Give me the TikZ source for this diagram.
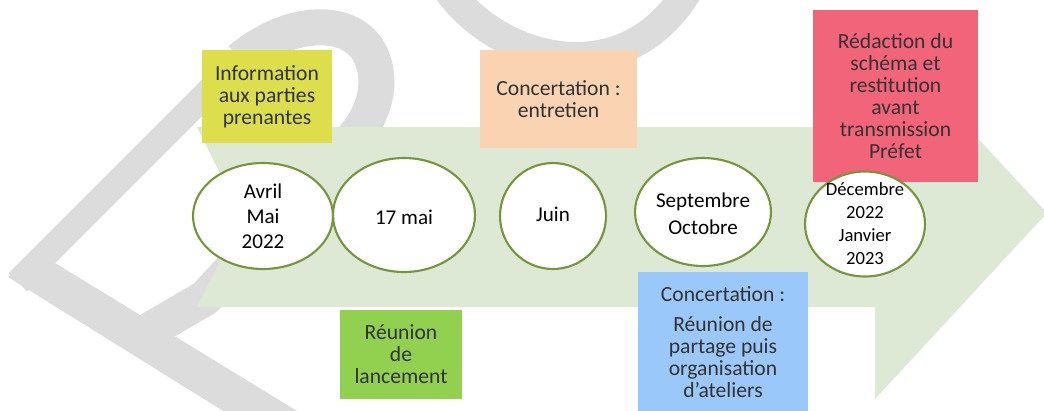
\documentclass[tikz,border=0pt]{standalone}
\usepackage{fontspec}
\setmainfont{Carlito}
\usetikzlibrary{shapes.geometric}
\definecolor{arrowgreen}{RGB}{221,232,213}
\definecolor{wmgrey}{RGB}{220,220,220}
\definecolor{ybox}{RGB}{221,222,76}
\definecolor{pbox}{RGB}{250,211,178}
\definecolor{rbox}{RGB}{242,100,122}
\definecolor{gbox}{RGB}{146,208,80}
\definecolor{bbox}{RGB}{155,200,250}
\definecolor{ringgreen}{RGB}{118,150,62}
\definecolor{boxtext}{RGB}{50,50,50}
\begin{document}
\begin{tikzpicture}[x=0.02cm,y=-0.02cm,
  box/.style={rectangle, inner sep=0pt, align=center, text=boxtext,
    font=\fontsize{12.3}{12.5}\selectfont},
  datering/.style={ellipse, draw=ringgreen, line width=1.2pt, fill=white, inner sep=0pt},
  datetext/.style={inner sep=0pt, align=center, text=black,
    font=\fontsize{12}{14.2}\selectfont}]
\useasboundingbox (0,0) rectangle (1044,410);
\begin{scope}
\clip (0,0) rectangle (1044,410);
% watermark
\fill[wmgrey] (8,277) -- (42,255) -- (302,414) -- (228,414) -- cycle;
\draw[wmgrey, line width=14.8pt] (18,282) -- (246,54);
\draw[wmgrey, line width=20.5pt, line join=round] (240,60) .. controls (285,22) and (345,15) .. (368,50)
  .. controls (385,80) and (375,115) .. (350,142) -- (205,298) -- (150,330);
\draw[wmgrey, line width=17pt] (448,-10) .. controls (500,62) and (625,95) .. (688,-10);
% big arrow
\fill[arrowgreen] (197,127) -- (875,127) -- (875,27) -- (1047,213) -- (875,399)
  -- (875,307) -- (197,307) -- (242,217) -- cycle;
\end{scope}
% boxes
\node[box, fill=ybox, minimum width=2.6cm, minimum height=1.86cm] (info) at (267,96.5)
  {Information\\aux parties\\prenantes};
\node[box, fill=pbox, minimum width=3.14cm, minimum height=1.96cm] (entretien) at (558.5,99)
  {Concertation :\\entretien};
\node[box, fill=rbox, minimum width=3.3cm, minimum height=3.44cm] (redaction) at (895.5,96)
  {Rédaction du\\schéma et\\restitution\\avant\\transmission\\Préfet};
\node[box, fill=gbox, minimum width=2.44cm, minimum height=1.78cm] (lancement) at (401,354.5)
  {Réunion\\de\\lancement};
\node[box, fill=bbox, minimum width=3.4cm, minimum height=2.8cm] (ateliers) at (723,342)
  {Concertation :\\[4.5pt]Réunion de\\partage puis\\organisation\\d’ateliers};
% dates
\node[datering, minimum width=2.8cm, minimum height=2.12cm] (e1) at (263,216) {};
\node[datetext] (t1) at (e1) {Avril\\Mai\\2022};
\node[datering, minimum width=2.84cm, minimum height=2.28cm] (e2) at (404,215) {};
\node[datetext] (t2) at (404,217) {17 mai};
\node[datering, minimum width=2.12cm, minimum height=2.12cm] (e3) at (553,216) {};
\node[datetext] (t3) at (553,214) {Juin};
\node[datering, minimum width=2.72cm, minimum height=2.16cm] (e4) at (703,212) {};
\node[datetext, font=\fontsize{12}{15.2}\selectfont] (t4) at (703,214) {Septembre\\Octobre};
\node[datering, minimum width=2.4cm, minimum height=2.1cm] (e5) at (865,224) {};
\node[datetext, font=\fontsize{10.6}{13.1}\selectfont] (t5) at (865,223.5) {Décembre\\2022\\Janvier\\2023};
\end{tikzpicture}
\end{document}
